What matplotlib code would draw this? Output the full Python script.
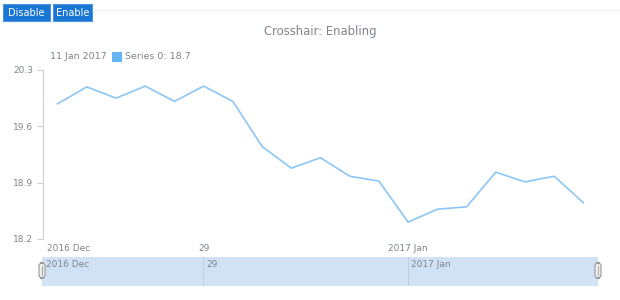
import matplotlib.pyplot as plt
from matplotlib.patches import Rectangle, FancyBboxPatch

# data (ordinal x scale, one point per record)
valores = [19.88, 20.09, 19.95, 20.10, 19.91, 20.10, 19.91, 19.35, 19.08, 19.21,
           18.98, 18.92, 18.41, 18.57, 18.60, 19.03, 18.91, 18.98, 18.65]
ticks_y = [18.2, 18.9, 19.6, 20.3]
ticks_x = [5, 12]
rotulos_x = ['29', '2017 Jan']
rotulo_inicio = '2016 Dec'
legenda_data = '11 Jan 2017'
legenda_valor = 18.7

cinza = '#7c868e'
azul = '#8cc6f7'
W, H = 620, 300


def fx(px):
    return px / W


def fy(py):
    return 1 - py / H


fig = plt.figure(figsize=(6.2, 3.0), dpi=100)
fig.patch.set_facecolor('white')

# botoes
for x0, x1, txt in [(3, 50, 'Disable'), (53, 92, 'Enable')]:
    fig.add_artist(Rectangle((fx(x0), fy(21)), fx(x1 - x0), 17 / H,
                             transform=fig.transFigure, facecolor='#1976d2',
                             edgecolor='#4a94e0', lw=0.8))
    fig.text(fx((x0 + x1) / 2), fy(12.5), txt, color='white', fontsize=7,
             ha='center', va='center')
fig.add_artist(plt.Line2D([fx(93), 1], [fy(10), fy(10)], transform=fig.transFigure,
                          color='#f0f0f0', lw=0.8))

# titulo
fig.text(0.516, fy(32), 'Crosshair: Enabling', color=cinza, fontsize=8.4,
         ha='center', va='center')

# grafico principal
n = len(valores)
ax = fig.add_axes([fx(43), fy(239), fx(598 - 43), (239 - 70) / H])
ax.plot(range(n), valores, color=azul, lw=1.2)
ax.set_xlim(-0.5, n - 0.5)
ax.set_ylim(18.2, 20.3)
for s in ['top', 'right', 'bottom']:
    ax.spines[s].set_visible(False)
ax.spines['left'].set_color('#cecece')
ax.set_yticks(ticks_y)
ax.set_yticklabels(['%.1f' % v for v in ticks_y])
ax.tick_params(axis='y', colors='#cecece', labelcolor=cinza, labelsize=6.5,
               length=4, width=0.8, pad=3)
ax.set_xticks([])
for i, r in zip(ticks_x, rotulos_x):
    ax.text(i, -0.03, r, transform=ax.get_xaxis_transform(), ha='center', va='top',
            color=cinza, fontsize=6.5)
ax.text(0.007, -0.03, rotulo_inicio, transform=ax.transAxes, ha='left', va='top',
        color=cinza, fontsize=6.5)

# legenda
fig.text(fx(50), fy(57), legenda_data, color=cinza, fontsize=6.8, va='center')
fig.add_artist(Rectangle((fx(112), fy(62)), fx(10), 10 / H, transform=fig.transFigure,
                         facecolor='#64b5f6', edgecolor='none'))
fig.text(fx(125), fy(57), 'Series 0: %.1f' % legenda_valor, color=cinza,
         fontsize=6.8, va='center')

# scroller
sc = fig.add_axes([fx(42), fy(286), fx(598 - 42), (286 - 257) / H])
sc.set_xlim(-0.5, n - 0.5)
sc.set_ylim(0, 1)
sc.set_facecolor('#d2e2f5')
for s in sc.spines.values():
    s.set_visible(False)
sc.set_xticks([])
sc.set_yticks([])
for i, r in zip(ticks_x, rotulos_x):
    sc.axvline(i, color='#c2cfdf', lw=0.8)
    sc.text(i + 0.1, 0.88, r, ha='left', va='top', color=cinza, fontsize=6.5)
sc.text(0.007, 0.88, rotulo_inicio, transform=sc.transAxes, ha='left', va='top',
        color=cinza, fontsize=6.5)
for hx in [42, 598]:
    fig.add_artist(FancyBboxPatch((fx(hx - 3), fy(278)), fx(6), 15 / H,
                                  boxstyle='round,pad=0,rounding_size=0.008',
                                  transform=fig.transFigure, facecolor='#eeeeee',
                                  edgecolor='#9a9a9a', lw=0.8))
    fig.add_artist(plt.Line2D([fx(hx), fx(hx)], [fy(275), fy(266)],
                              transform=fig.transFigure, color='#9a9a9a', lw=0.6))

fig.savefig('out.png', dpi=100)
